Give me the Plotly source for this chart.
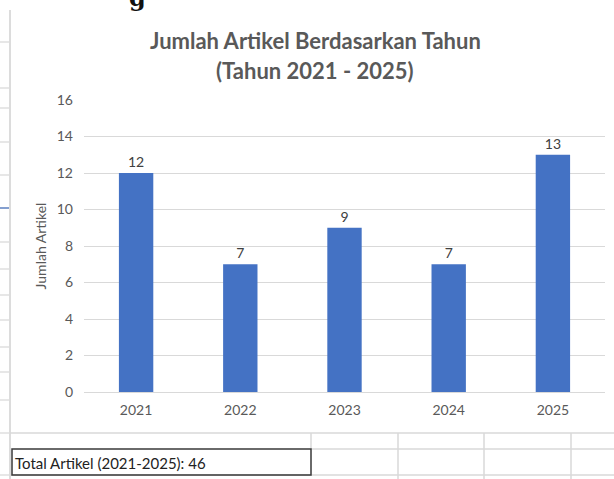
import plotly.graph_objects as go

years = ["2021", "2022", "2023", "2024", "2025"]
counts = [12, 7, 9, 7, 13]
title_lines = ["Jumlah Artikel Berdasarkan Tahun", "(Tahun 2021 - 2025)"]
y_title = "Jumlah Artikel"
total_label = "Total Artikel (2021-2025): 46"
y_ticks = [0, 2, 4, 6, 8, 10, 12, 14, 16]

W, H = 614, 479
ML, MR, MT, MB = 84, 9, 100, 87
PH = H - MT - MB
PW = W - ML - MR

def px_x(x):
    return (x - ML) / PW

def px_y(y):
    return (H - MB - y) / PH

FONT = "Lato"
GREY = "#595959"

fig = go.Figure(go.Bar(
    x=years, y=counts,
    marker=dict(color="#4472C4", line=dict(width=0)),
    text=[str(c) for c in counts], textposition="outside",
    textfont=dict(family=FONT, size=14, color="#404040"),
    cliponaxis=False,
))

shapes = []
grid = "#d9d9d9"
# spreadsheet frame / cells below chart
shapes.append(dict(type="line", xref="paper", yref="paper", x0=px_x(10), x1=px_x(10), y0=px_y(10), y1=px_y(479), line=dict(color="#d0d0d0", width=1.5)))
shapes.append(dict(type="line", xref="paper", yref="paper", x0=px_x(10), x1=px_x(614), y0=px_y(433), y1=px_y(433), line=dict(color=grid, width=1.5)))
shapes.append(dict(type="line", xref="paper", yref="paper", x0=px_x(311), x1=px_x(614), y0=px_y(449), y1=px_y(449), line=dict(color=grid, width=1.5)))
shapes.append(dict(type="line", xref="paper", yref="paper", x0=px_x(10), x1=px_x(614), y0=px_y(475), y1=px_y(475), line=dict(color=grid, width=1.5)))
for vx in [398, 484, 571]:
    shapes.append(dict(type="line", xref="paper", yref="paper", x0=px_x(vx), x1=px_x(vx), y0=px_y(433), y1=px_y(479), line=dict(color=grid, width=1.5)))
shapes.append(dict(type="line", xref="paper", yref="paper", x0=px_x(311), x1=px_x(311), y0=px_y(433), y1=px_y(449), line=dict(color=grid, width=1.5)))
# left margin row marks
for ry in [42, 88, 108, 142, 175, 242, 269, 295, 320, 347, 372, 400, 433, 475]:
    shapes.append(dict(type="line", xref="paper", yref="paper", x0=px_x(0), x1=px_x(9), y0=px_y(ry), y1=px_y(ry), line=dict(color="#cfcfcf", width=1)))
shapes.append(dict(type="line", xref="paper", yref="paper", x0=px_x(0), x1=px_x(9), y0=px_y(208), y1=px_y(208), line=dict(color="#5b7fbf", width=1.5)))
# total box
shapes.append(dict(type="rect", xref="paper", yref="paper", x0=px_x(12), x1=px_x(311), y0=px_y(449), y1=px_y(475), line=dict(color="#3a3a3a", width=1.5)))

annotations = [
    dict(text=title_lines[0], xref="paper", yref="paper", x=px_x(315), y=px_y(41), xanchor="center", yanchor="middle", showarrow=False,
         font=dict(family=FONT, size=22, color=GREY, weight="bold")),
    dict(text=title_lines[1], xref="paper", yref="paper", x=px_x(315), y=px_y(70), xanchor="center", yanchor="middle", showarrow=False,
         font=dict(family=FONT, size=22, color=GREY, weight="bold")),
    dict(text=total_label, xref="paper", yref="paper", x=px_x(13), y=px_y(463), xanchor="left", yanchor="middle", showarrow=False,
         font=dict(family=FONT, size=15, color="#222222")),
    dict(text="g", xref="paper", yref="paper", x=px_x(137), y=px_y(14), xanchor="center", yanchor="bottom", showarrow=False,
         font=dict(family="DejaVu Serif", size=24, color="#111111", weight="bold")),
]

fig.update_layout(
    width=W, height=H,
    margin=dict(l=ML, r=MR, t=MT, b=MB, pad=0),
    paper_bgcolor="white", plot_bgcolor="white",
    bargap=0.67,
    showlegend=False,
    shapes=shapes,
    annotations=annotations,
    xaxis=dict(showgrid=False, showline=False, ticks="", zeroline=False,
               ticklabelstandoff=8,
               tickfont=dict(family=FONT, size=14, color=GREY)),
    yaxis=dict(range=[0, 16], tickvals=y_ticks, showgrid=True, gridcolor=grid, gridwidth=1,
               zeroline=True, zerolinecolor=grid, zerolinewidth=1, showline=False, ticks="",
               ticklabelstandoff=10,
               tickfont=dict(family=FONT, size=14, color=GREY),
               title=dict(text=y_title, font=dict(family=FONT, size=14, color=GREY), standoff=6)),
)

fig.write_html("out.html", config={"displayModeBar": False},
               post_script="document.body.style.margin='0';document.body.style.overflow='hidden';")
